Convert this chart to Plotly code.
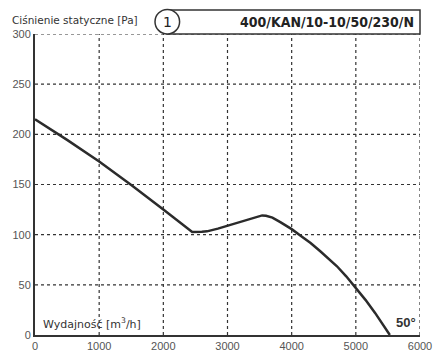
import plotly.graph_objects as go

flow = [0, 500, 1000, 1500, 2000, 2450, 2600, 2680, 2850, 3000, 3200, 3400, 3470, 3540, 3600,
        3700, 3823, 4000, 4150, 4295, 4446, 4580, 4706, 4850, 5000, 5150, 5300, 5420, 5530]
pressure = [215, 194.5, 173, 149.5, 125, 102.7, 103, 103.3, 106, 109, 113, 117, 118.5, 119.2, 118.8,
            117, 112.5, 105.5, 98.5, 91.7, 83.4, 76, 68.5, 58.5, 47, 35, 22, 10.5, 0]

x_ticks = [0, 1000, 2000, 3000, 4000, 5000, 6000]
y_ticks = [0, 50, 100, 150, 200, 250, 300]

title_text = "Ciśnienie statyczne [Pa]"
model_text = "400/KAN/10-10/50/230/N"
x_label = "Wydajność [m<sup>3</sup>/h]"
angle_text = "50°"
curve_no = "1"

fig = go.Figure()
fig.add_trace(go.Scatter(x=flow, y=pressure, mode="lines",
                         line=dict(color="#2b2b2b", width=2.5, shape="linear"),
                         hoverinfo="skip", showlegend=False))

axis_font = dict(family="Liberation Sans, Arial", size=11, color="#555555")
fig.update_xaxes(range=[0, 6000], tickvals=x_ticks, ticktext=[str(v) for v in x_ticks],
                 showgrid=False, showline=True, linecolor="#333333", linewidth=2, zeroline=False,
                 tickfont=axis_font, ticks="", fixedrange=True, automargin=False)
fig.update_yaxes(range=[0, 300], tickvals=y_ticks, ticktext=[str(v) for v in y_ticks],
                 showgrid=False, showline=True, linecolor="#333333", linewidth=2, zeroline=False,
                 tickfont=axis_font, ticks="", fixedrange=True, automargin=False)

# dotted grid drawn as line shapes at the tick values
grid_line = dict(color="#333333", width=1.2, dash="dot")
for xv in x_ticks[1:]:
    fig.add_shape(type="line", xref="x", yref="y", x0=xv, x1=xv,
                  y0=y_ticks[0], y1=y_ticks[-1], line=grid_line, layer="below")
for yv in y_ticks[1:]:
    fig.add_shape(type="line", xref="x", yref="y", x0=x_ticks[0], x1=x_ticks[-1],
                  y0=yv, y1=yv, line=grid_line, layer="below")

def px_x(p):
    return (p - 35) / 385.0

def px_y(p):
    return (335 - p) / 301.0

fig.add_shape(type="rect", xref="paper", yref="paper",
              x0=px_x(167), x1=px_x(420), y0=px_y(34), y1=px_y(10),
              line=dict(color="#333333", width=1.5), fillcolor="white", layer="above")
fig.add_shape(type="circle", xref="paper", yref="paper",
              x0=px_x(155), x1=px_x(179.6), y0=px_y(34), y1=px_y(9.4),
              line=dict(color="#333333", width=1.5), fillcolor="white", layer="above")

fig.add_annotation(xref="paper", yref="paper", x=px_x(167.3), y=px_y(21.7),
                   text=curve_no, showarrow=False, xanchor="center", yanchor="middle",
                   font=dict(family="DejaVu Sans", size=14, color="#222222"))
fig.add_annotation(xref="paper", yref="paper", x=px_x(416), y=px_y(21.7),
                   text="<b>" + model_text + "</b>", showarrow=False, xanchor="right", yanchor="middle",
                   font=dict(family="DejaVu Sans Condensed, Liberation Sans Narrow", size=14, color="#222222"))
fig.add_annotation(xref="paper", yref="paper", x=px_x(10), y=px_y(20),
                   text=title_text, showarrow=False, xanchor="left", yanchor="middle",
                   font=dict(family="DejaVu Sans, Noto Sans", size=10.5, color="#333333"))
fig.add_annotation(xref="x", yref="y", x=95, y=11,
                   text=x_label, showarrow=False, xanchor="left", yanchor="middle",
                   font=dict(family="DejaVu Sans, Noto Sans", size=11, color="#333333"))
fig.add_annotation(xref="x", yref="y", x=5780, y=12,
                   text="<b>" + angle_text + "</b>", showarrow=False, xanchor="center", yanchor="middle",
                   font=dict(family="Liberation Sans, Arial", size=13, color="#333333"))

# the page body adds an 8px margin, so the figure is drawn 8px smaller on the left/top
fig.update_layout(width=433, height=351, margin=dict(l=27, r=21, t=26, b=24),
                  paper_bgcolor="white", plot_bgcolor="white", showlegend=False)

fig.write_html("out.html")
